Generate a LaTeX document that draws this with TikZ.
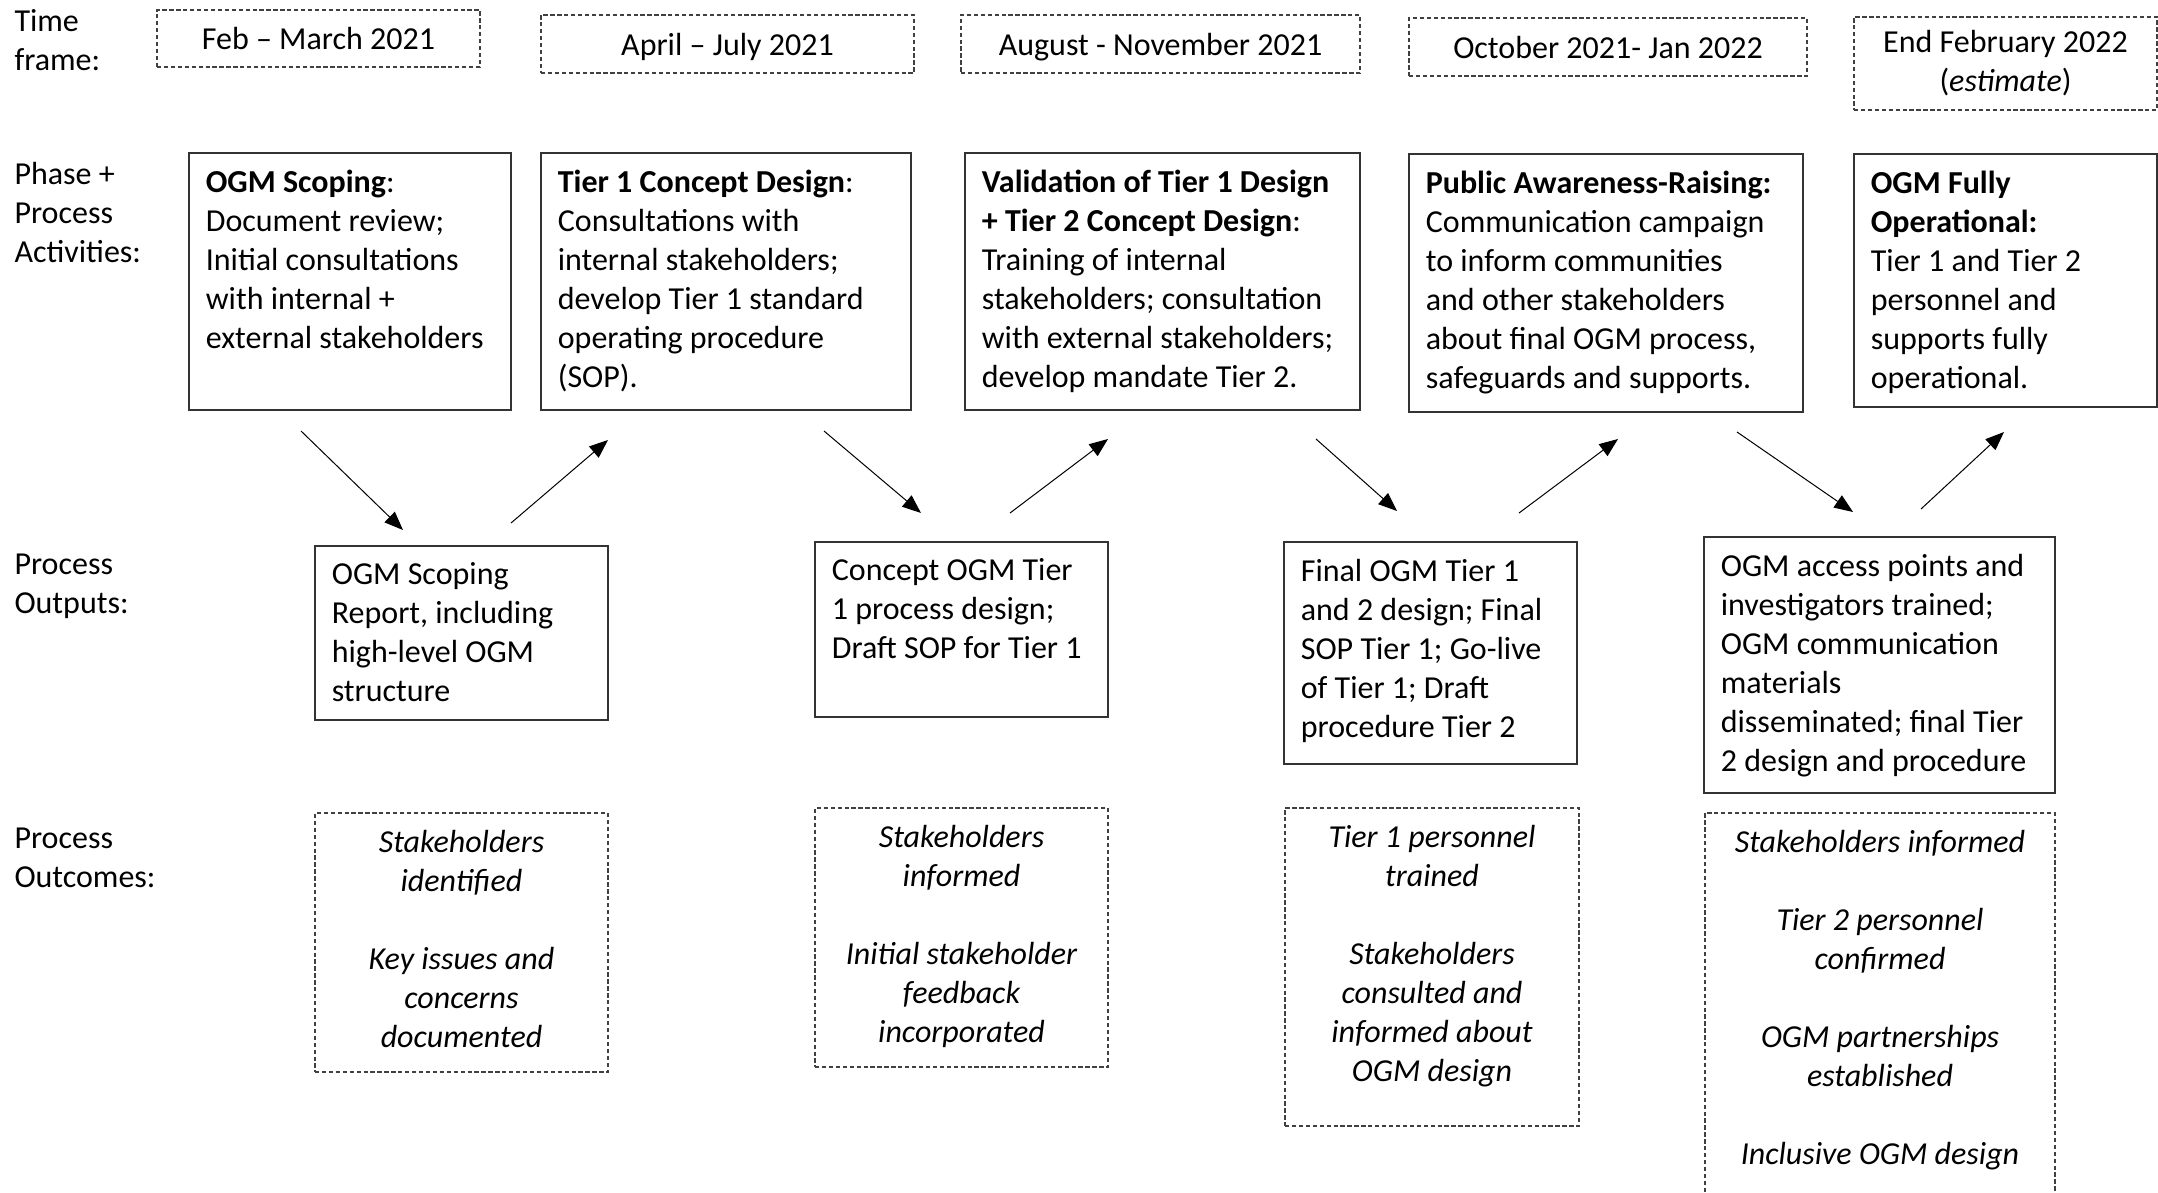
\documentclass[tikz,border=0pt]{standalone}
\usepackage{fontspec}
\setmainfont{Carlito}
\usetikzlibrary{arrows.meta,fit,calc}

\tikzset{every picture/.style={line width=0.75pt}}
\tikzset{
  txt/.style={inner sep=0pt, font=\fontsize{24}{29.25}\selectfont},
  timetxt/.style={txt, text height=17pt, text depth=0pt},
  solidbox/.style={draw=black!80, line width=1pt, inner sep=0pt},
  dashbox/.style={draw=black!75, line width=1pt, dash pattern=on 3.2pt off 2pt, inner sep=0pt},
  flow/.style={-{Triangle[length=14pt,width=11pt]}, line width=0.75pt},
}

\begin{document}
\begin{tikzpicture}[x=0.75pt,y=0.75pt,yscale=-1,xscale=1]
    \useasboundingbox (0,0) rectangle (2158,1192);
    \clip (0,0) rectangle (2158,1192);

    % Row labels
    \node (lbltime) [txt, anchor=north west, align=left] at (14,9) {Time\\frame:};
    \node (lblphase) [txt, anchor=north west, align=left] at (14,162) {Phase +\\Process\\Activities:};
    \node (lblout) [txt, anchor=north west, align=left] at (14,553) {Process\\Outputs:};
    \node (lblcome) [txt, anchor=north west, align=left] at (14,827) {Process\\Outcomes:};

    % Time frame boxes
    \node (tf1) [dashbox, fit={(157,10) (480,67)}] {};
    \node (tf1t) [timetxt] at (tf1.center) {Feb -- March 2021};
    \node (tf2) [dashbox, fit={(541,15) (914,73)}] {};
    \node (tf2t) [timetxt] at (tf2.center) {April -- July 2021};
    \node (tf3) [dashbox, fit={(961,15) (1360,73)}] {};
    \node (tf3t) [timetxt] at (tf3.center) {August - November 2021};
    \node (tf4) [dashbox, fit={(1409,18) (1807,76)}] {};
    \node (tf4t) [timetxt] at (tf4.center) {October 2021- Jan 2022};
    \node (tf5) [dashbox, fit={(1854,17) (2157,110)}] {};
    \node (tf5t) [txt, align=center] at (tf5.center) {End February 2022\\(\textit{estimate})};

    % Phase + process activities
    \node (ph1) [solidbox, fit={(189,153) (511,410)}] {};
    \node (ph1t) [txt, anchor=north west, align=left] at ($(ph1.north west)+(17,17)$)
      {\textbf{OGM Scoping}:\\Document review;\\Initial consultations\\with internal +\\external stakeholders};
    \node (ph2) [solidbox, fit={(541,153) (911,410)}] {};
    \node (ph2t) [txt, anchor=north west, align=left] at ($(ph2.north west)+(17,17)$)
      {\textbf{Tier 1 Concept Design}:\\Consultations with\\internal stakeholders;\\develop Tier 1 standard\\operating procedure\\(SOP).};
    \node (ph3) [solidbox, fit={(965,153) (1360,410)}] {};
    \node (ph3t) [txt, anchor=north west, align=left] at ($(ph3.north west)+(17,17)$)
      {\textbf{Validation of Tier 1 Design}\\\textbf{+ Tier 2 Concept Design}:\\Training of internal\\stakeholders; consultation\\with external stakeholders;\\develop mandate Tier 2.};
    \node (ph4) [solidbox, fit={(1409,154) (1803,412)}] {};
    \node (ph4t) [txt, anchor=north west, align=left] at ($(ph4.north west)+(17,17)$)
      {\textbf{Public Awareness-Raising:}\\Communication campaign\\to inform communities\\and other stakeholders\\about final OGM process,\\safeguards and supports.};
    \node (ph5) [solidbox, fit={(1854,154) (2157,407)}] {};
    \node (ph5t) [txt, anchor=north west, align=left] at ($(ph5.north west)+(17,17)$)
      {\textbf{OGM Fully}\\\textbf{Operational:}\\Tier 1 and Tier 2\\personnel and\\supports fully\\operational.};

    % Process outputs
    \node (op1) [solidbox, fit={(315,546) (608,720)}] {};
    \node (op1t) [txt, anchor=north west, align=left] at ($(op1.north west)+(17,17)$)
      {OGM Scoping\\Report, including\\high-level OGM\\structure};
    \node (op2) [solidbox, fit={(815,542) (1108,717)}] {};
    \node (op2t) [txt, anchor=north west, align=left] at ($(op2.north west)+(17,17)$)
      {Concept OGM Tier\\1 process design;\\Draft SOP for Tier 1};
    \node (op3) [solidbox, fit={(1284,542) (1577,764)}] {};
    \node (op3t) [txt, anchor=north west, align=left] at ($(op3.north west)+(17,17)$)
      {Final OGM Tier 1\\and 2 design; Final\\SOP Tier 1; Go-live\\of Tier 1; Draft\\procedure Tier 2};
    \node (op4) [solidbox, fit={(1704,537) (2055,793)}] {};
    \node (op4t) [txt, anchor=north west, align=left] at ($(op4.north west)+(17,17)$)
      {OGM access points and\\investigators trained;\\OGM communication\\materials\\disseminated; final Tier\\2 design and procedure};

    % Process outcomes
    \node (oc1) [dashbox, fit={(315,813) (608,1072)}] {};
    \node (oc1t) [txt, anchor=north, align=center, font=\fontsize{24}{29.25}\selectfont\itshape] at ($(oc1.north)+(0,17)$)
      {Stakeholders\\identified\\[29.25pt]Key issues and\\concerns\\documented};
    \node (oc2) [dashbox, fit={(815,808) (1108,1067)}] {};
    \node (oc2t) [txt, anchor=north, align=center, font=\fontsize{24}{29.25}\selectfont\itshape] at ($(oc2.north)+(0,17)$)
      {Stakeholders\\informed\\[29.25pt]Initial stakeholder\\feedback\\incorporated};
    \node (oc3) [dashbox, fit={(1285,808) (1579,1126)}] {};
    \node (oc3t) [txt, anchor=north, align=center, font=\fontsize{24}{29.25}\selectfont\itshape] at ($(oc3.north)+(0,17)$)
      {Tier 1 personnel\\trained\\[29.25pt]Stakeholders\\consulted and\\informed about\\OGM design};
    \node (oc4) [dashbox, fit={(1705,813) (2055,1215)}] {};
    \node (oc4t) [txt, anchor=north, align=center, font=\fontsize{24}{29.25}\selectfont\itshape] at ($(oc4.north)+(0,17)$)
      {Stakeholders informed\\[29.25pt]Tier 2 personnel\\confirmed\\[29.25pt]OGM partnerships\\established\\[29.25pt]Inclusive OGM design};

    % Arrow ends
    \coordinate (a1s) at (301,431); \coordinate (a1e) at (403,530);
    \coordinate (a2s) at (511,523); \coordinate (a2e) at (608,440);
    \coordinate (a3s) at (824,431); \coordinate (a3e) at (921,513);
    \coordinate (a4s) at (1010,513); \coordinate (a4e) at (1108,439);
    \coordinate (a5s) at (1316,439); \coordinate (a5e) at (1397,511);
    \coordinate (a6s) at (1519,513); \coordinate (a6e) at (1618,439);
    \coordinate (a7s) at (1737,432); \coordinate (a7e) at (1853,512);
    \coordinate (a8s) at (1921,509); \coordinate (a8e) at (2004,432);

    % Arrows
    \foreach \i in {1,...,8}
      \draw [flow] (a\i s) -- (a\i e);
\end{tikzpicture}
\end{document}
